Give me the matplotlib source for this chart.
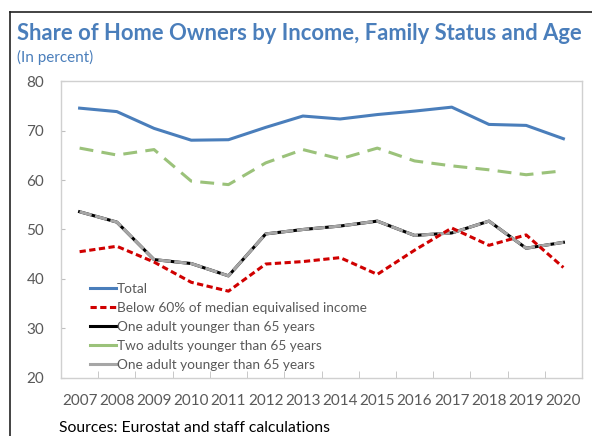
import matplotlib.pyplot as plt
import numpy as np
from matplotlib.lines import Line2D

plt.rcParams['font.family'] = ['Lato', 'DejaVu Sans']
plt.rcParams['lines.scale_dashes'] = False

years = [str(y) for y in range(2007, 2021)]
total = [74.6, 73.9, 70.5, 68.1, 68.2, 70.7, 73.0, 72.4, 73.3, 74.0, 74.8, 71.3, 71.1, 68.4]
below_60 = [45.5, 46.6, 43.4, 39.3, 37.5, 43.0, 43.5, 44.3, 40.9, 45.8, 50.3, 46.8, 48.9, 42.3]
one_adult = [53.6, 51.5, 43.9, 43.1, 40.6, 49.1, 50.0, 50.7, 51.7, 48.8, 49.3, 51.7, 46.2, 47.4]
two_adults = [66.5, 65.1, 66.2, 59.8, 59.1, 63.5, 66.2, 64.3, 66.5, 63.9, 62.9, 62.1, 61.1, 61.9]
one_adult_2 = [53.6, 51.5, 43.9, 43.1, 40.6, 49.1, 50.0, 50.7, 51.7, 48.8, 49.3, 51.7, 46.2, 47.4]

labels = ['Total', 'Below 60% of median equivalised income',
          'One adult younger than 65 years', 'Two adults younger than 65 years',
          'One adult younger than 65 years']

blue = '#4A7EBB'
red = '#D00000'
green = '#9BC27A'
grey = '#A6A6A6'
text_grey = '#595959'

fig = plt.figure(figsize=(5.92, 4.36), dpi=100)
ax = fig.add_axes([61 / 592, 1 - 377.5 / 436, 521 / 592, (377.5 - 81.5) / 436])

x = np.arange(len(years))
lw = 2.2
ax.plot(x, total, color=blue, lw=lw, zorder=3)
ax.plot(x, below_60, color=red, lw=lw, dashes=(4.5, 2.5), zorder=6)
ax.plot(x, one_adult, color='black', lw=lw, zorder=4)
ax.plot(x, two_adults, color=green, lw=lw, dashes=(10, 6), zorder=3)
ax.plot(x, one_adult_2, color=grey, lw=lw, dashes=(9, 2.5), zorder=5)

ax.set_xlim(-0.5, len(years) - 0.5)
ax.set_ylim(20, 80)
ax.set_yticks(range(20, 81, 10))
ax.set_xticks(x)
ax.set_xticklabels(years)
ax.set_xticks(np.arange(0.5, len(years) - 1, 1), minor=True)
ax.tick_params(axis='x', which='major', length=0, pad=12, labelsize=11, labelcolor=text_grey)
ax.tick_params(axis='x', which='minor', direction='in', length=5, color='#BFBFBF')
ax.tick_params(axis='y', direction='in', length=3, color='#BFBFBF', pad=12,
               labelsize=11, labelcolor=text_grey)
for s in ax.spines.values():
    s.set_color('#D0D0D0')
    s.set_linewidth(1)

handles = [
    Line2D([], [], color=blue, lw=lw),
    Line2D([], [], color=red, lw=lw, dashes=(4.5, 2.5)),
    Line2D([], [], color='black', lw=lw),
    Line2D([], [], color=green, lw=lw),
    Line2D([], [], color=grey, lw=lw),
]
leg = ax.legend(handles, labels, loc='upper left', bbox_to_anchor=(0.055, 0.32),
                frameon=False, fontsize=9.8, handlelength=1.9, handletextpad=0.1,
                labelspacing=0.52, borderaxespad=0, borderpad=0)
for t in leg.get_texts():
    t.set_color(text_grey)

fig.text(17 / 592, 1 - 33 / 436, 'Share of Home Owners by Income, Family Status and Age',
         fontsize=15.8, fontweight='bold', color=blue, va='center', ha='left')
fig.text(17 / 592, 1 - 57 / 436, '(In percent)', fontsize=11, color=blue,
         va='center', ha='left')
fig.text(59 / 592, 1 - 428 / 436, 'Sources: Eurostat and staff calculations',
         fontsize=11.3, color='black', va='center', ha='left')

# outer frame on the left and top
fig.add_artist(Line2D([10 / 592, 10 / 592], [0, 1 - 12 / 436], color='#222222', lw=1.2))
fig.add_artist(Line2D([10 / 592, 1], [1 - 12 / 436, 1 - 12 / 436], color='#222222', lw=1.2))

fig.savefig('out.png', dpi=100)
